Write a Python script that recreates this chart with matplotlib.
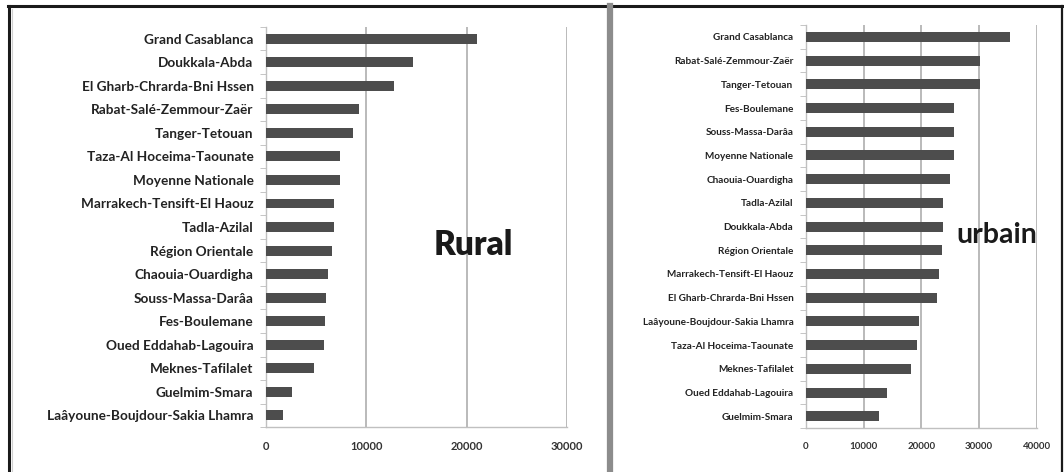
import matplotlib.pyplot as plt
from matplotlib.lines import Line2D

# rural values by region (top to bottom)
rural_regions = [
    "Grand Casablanca", "Doukkala-Abda", "El Gharb-Chrarda-Bni Hssen",
    "Rabat-Salé-Zemmour-Zaër", "Tanger-Tetouan", "Taza-Al Hoceima-Taounate",
    "Moyenne Nationale", "Marrakech-Tensift-El Haouz", "Tadla-Azilal",
    "Région Orientale", "Chaouia-Ouardigha", "Souss-Massa-Darâa",
    "Fes-Boulemane", "Oued Eddahab-Lagouira", "Meknes-Tafilalet",
    "Guelmim-Smara", "Laâyoune-Boujdour-Sakia Lhamra",
]
rural_values = [21000, 14600, 12750, 9300, 8650, 7350, 7350, 6800, 6800,
                6550, 6200, 5950, 5900, 5750, 4800, 2550, 1700]
rural_ticks = [0, 10000, 20000, 30000]

# urban values by region (top to bottom)
urban_regions = [
    "Grand Casablanca", "Rabat-Salé-Zemmour-Zaër", "Tanger-Tetouan",
    "Fes-Boulemane", "Souss-Massa-Darâa", "Moyenne Nationale",
    "Chaouia-Ouardigha", "Tadla-Azilal", "Doukkala-Abda", "Région Orientale",
    "Marrakech-Tensift-El Haouz", "El Gharb-Chrarda-Bni Hssen",
    "Laâyoune-Boujdour-Sakia Lhamra", "Taza-Al Hoceima-Taounate",
    "Meknes-Tafilalet", "Oued Eddahab-Lagouira", "Guelmim-Smara",
]
urban_values = [35300, 30100, 30100, 25600, 25600, 25600, 25000, 23700, 23700,
                23600, 23150, 22700, 19600, 19200, 18200, 14100, 12700]
urban_ticks = [0, 10000, 20000, 30000, 40000]

plt.rcParams['font.family'] = ['Lato', 'DejaVu Sans']

BAR = '#4d4d4d'
GRID = '#b4b4b4'

fig = plt.figure(figsize=(10.64, 4.72), dpi=100)


def hbar_panel(rect, regions, values, ticks, label_size, tick_size):
    ax = fig.add_axes(rect)
    n = len(regions)
    pos = list(range(n))
    ax.barh(pos, values, height=0.42, color=BAR, zorder=3)
    ax.set_ylim(n - 0.5, -0.5)
    ax.set_xlim(ticks[0], ticks[-1])
    ax.set_yticks(pos)
    ax.set_yticklabels(regions, fontsize=label_size, fontweight='bold',
                       color='#222222')
    ax.set_yticks([p - 0.5 for p in range(n + 1)], minor=True)
    ax.tick_params(axis='y', which='major', length=0, pad=9)
    ax.tick_params(axis='y', which='minor', length=4, color='#bbbbbb',
                   direction='out')
    ax.set_xticks(ticks)
    ax.set_xticklabels([str(t) for t in ticks], fontsize=tick_size,
                       fontweight='bold', color='#333333')
    ax.tick_params(axis='x', length=0, pad=10)
    ax.grid(axis='x', color=GRID, linewidth=1.3, zorder=0)
    for s in ('top', 'right'):
        ax.spines[s].set_visible(False)
    for s in ('left', 'bottom'):
        ax.spines[s].set_color('#c0c0c0')
        ax.spines[s].set_linewidth(1.0)
    return ax


ax1 = hbar_panel([0.25, 0.095, 0.283, 0.848], rural_regions, rural_values,
                 rural_ticks, 9.8, 8)
ax1.text(0.69, 0.455, "Rural", transform=ax1.transAxes, fontsize=24,
         fontweight='heavy', color='#1a1a1a', ha='center', va='center',
         zorder=5)

ax2 = hbar_panel([0.7575, 0.093, 0.2168, 0.854], urban_regions, urban_values,
                 urban_ticks, 7.2, 7)
ax2.text(0.828, 0.479, "urbain", transform=ax2.transAxes, fontsize=20.5,
         fontweight='bold', color='#1a1a1a', ha='center', va='center',
         zorder=5)

# frame lines around the two panels
W, H = 1064, 472
fig.add_artist(Line2D([8 / W, 1062 / W], [1 - 6 / H, 1 - 6 / H],
                      color='#1a1a1a', linewidth=2.2))
fig.add_artist(Line2D([9 / W, 9 / W], [0, 1 - 6 / H],
                      color='#1a1a1a', linewidth=2.2))
fig.add_artist(Line2D([1062 / W, 1062 / W], [0, 1 - 6 / H],
                      color='#1a1a1a', linewidth=1.6))
fig.add_artist(Line2D([610 / W, 610 / W], [0, 1 - 6 / H],
                      color='#8c8c8c', linewidth=4.5))
fig.add_artist(Line2D([12 / W, 12 / W], [0, 1 - 9 / H],
                      color='#d0d0d0', linewidth=0.8))

fig.savefig("out.png", dpi=100)
